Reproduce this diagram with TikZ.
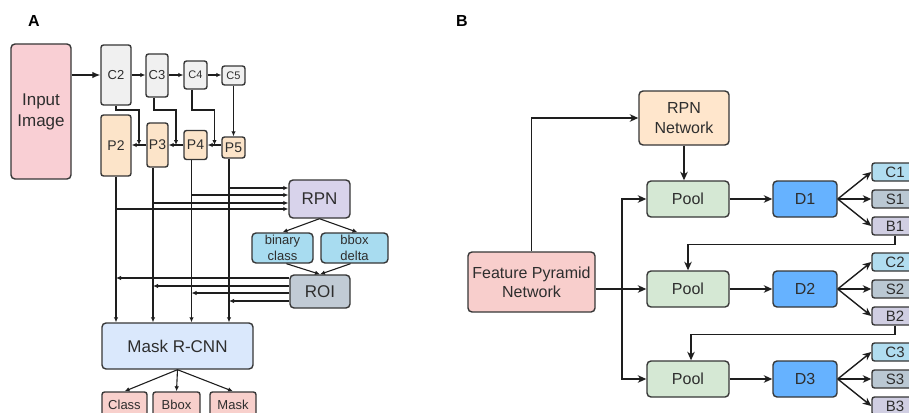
\documentclass[tikz,border=0pt]{standalone}
\usepackage{fontspec}
\setmainfont{Liberation Sans}
\usetikzlibrary{arrows.meta,calc}

\definecolor{edge}{HTML}{363636}
\definecolor{txt}{HTML}{2E2E2E}
\definecolor{wire}{HTML}{1E1E1E}
\definecolor{inpink}{HTML}{F9CFD4}
\definecolor{cgray}{HTML}{F0F0F0}
\definecolor{ppeach}{HTML}{FCE4C9}
\definecolor{rpnlav}{HTML}{D8D3EB}
\definecolor{headblue}{HTML}{A8DCF0}
\definecolor{roigray}{HTML}{C1CBD5}
\definecolor{maskblue}{HTML}{DAE8FC}
\definecolor{outpink}{HTML}{F8D0CC}
\definecolor{netpeach}{HTML}{FFE6CC}
\definecolor{poolgreen}{HTML}{D5E8D4}
\definecolor{dblue}{HTML}{66B2FF}
\definecolor{clsblue}{HTML}{B1DDF0}
\definecolor{segray}{HTML}{BAC8D3}
\definecolor{boxlav}{HTML}{D0CEE2}
\definecolor{fpnpink}{HTML}{F8CECC}

\newcommand{\fsz}[2]{\fontsize{#1}{#2}\selectfont}

\begin{document}
\begin{tikzpicture}[x=1pt,y=-1pt,
  box/.style={draw=edge, line width=1.4pt, rounded corners=4pt, align=center,
              text=txt, inner sep=0pt},
  sbox/.style={box, rounded corners=2.5pt},
  sz/.style 2 args={minimum width=#1, minimum height=#2},
  arrA/.style={draw=wire, line width=1.1pt, -{Latex[length=5pt,width=4.5pt]}},
  arrL/.style={draw=wire, line width=1.2pt, -{Latex[length=8pt,width=6.5pt]}},
  arrB/.style={draw=wire, line width=1.4pt, -{Stealth[length=8.5pt,width=7.5pt,inset=2.5pt]}},
  lbl/.style={font=\bfseries\fsz{16}{18}, text=black}
]
\useasboundingbox (0,0) rectangle (909,412);
\clip (0,0) rectangle (909,412);

% ---------------- Panel A: Mask R-CNN with FPN ----------------
\node[lbl] (labA) at (34,21) {A};

\node[box, fill=inpink, sz={60}{135}, font=\fsz{17}{21}] (inp) at (41,111.5) {Input\\Image};

\node[sbox, fill=cgray, sz={30}{60}, font=\fsz{13}{15}] (c2) at (116,75) {C2};
\node[sbox, fill=cgray, sz={22}{43}, font=\fsz{13}{15}] (c3) at (157,75.5) {C3};
\node[sbox, fill=cgray, sz={23}{28}, font=\fsz{11}{13}] (c4) at (195.5,75) {C4};
\node[sbox, fill=cgray, sz={23}{19}, font=\fsz{11}{13}] (c5) at (233.5,75.5) {C5};

\node[sbox, fill=ppeach, sz={30}{61}, font=\fsz{14}{16}] (p2) at (116,145.5) {P2};
\node[sbox, fill=ppeach, sz={21}{44}, font=\fsz{14}{16}] (p3) at (157.5,145) {P3};
\node[sbox, fill=ppeach, sz={23}{29}, font=\fsz{14}{16}] (p4) at (195.5,145) {P4};
\node[sbox, fill=ppeach, sz={23}{21}, font=\fsz{14}{16}] (p5) at (233.5,147.5) {P5};

\node[box, fill=rpnlav, sz={61}{38}, font=\fsz{17}{19}] (rpn) at (319.5,199) {RPN};
\node[box, fill=headblue, sz={61}{30}, font=\fsz{13}{16}] (bin) at (282.5,248) {binary\\class};
\node[box, fill=headblue, sz={67}{30}, font=\fsz{13}{16}] (bbx) at (354.5,248) {bbox\\delta};
\node[box, fill=roigray, sz={60}{33}, font=\fsz{17}{19}] (roi) at (320,291.5) {ROI};

\node[box, fill=maskblue, sz={151}{46}, font=\fsz{17}{19}] (mrcnn) at (177.5,346) {Mask R-CNN};

\node[sbox, fill=outpink, sz={45}{26}, font=\fsz{13}{15}] (cls) at (124.5,405) {Class};
\node[sbox, fill=outpink, sz={47}{26}, font=\fsz{13}{15}] (bbo) at (176.5,405) {Bbox};
\node[sbox, fill=outpink, sz={46}{26}, font=\fsz{13}{15}] (msk) at (233,405) {Mask};

% bottom-up pathway
\draw[arrL] (inp.east |- c2.west) -- (c2.west);
\draw[arrA] (c2.east) -- (c2.east -| c3.west);
\draw[arrA] (c3.east |- c4.west) -- (c4.west);
\draw[arrA] (c4.east) -- (c4.east -| c5.west);

% top-down pathway
\draw[arrA] (p5.west |- p4.east) -- (p4.east);
\draw[arrA] (p4.west) -- (p4.west -| p3.east);
\draw[arrA] (p3.west) -- (p3.west -| p2.east);

% lateral connections
\coordinate (lat) at (0,110);
\coordinate (m2) at ($(p3.west)!.5!(p3.west -| p2.east)$);
\coordinate (m3) at ($(p4.west)!.5!(p4.west -| p3.east)$);
\coordinate (m4) at ($(p4.east)!.5!(p4.east -| p5.west)$);
\draw[arrA] (c2.south) |- (lat -| m2) -- (m2);
\draw[arrA] ([xshift=-3pt]c3.south) |- (lat -| m3) -- (m3);
\draw[arrA] ([xshift=-3.5pt]c4.south) |- (lat -| m4) -- (m4);
\draw[arrA] (c5.south) -- (c5.south |- p5.north);

% pyramid outputs into Mask R-CNN
\coordinate (v2) at (p2.south);
\coordinate (v3) at ([xshift=-4.5pt]p3.south);
\coordinate (v4) at ([xshift=-4pt]p4.south);
\coordinate (v5) at ([xshift=-4.5pt]p5.south);
\foreach \v in {v2,v3,v4,v5}
  \draw[arrA] (\v) -- (\v |- mrcnn.north);

% pyramid levels into the RPN
\coordinate (r5) at ([yshift=11pt]rpn.west);
\coordinate (r4) at ([yshift=4pt]rpn.west);
\coordinate (r3) at ([yshift=-4pt]rpn.west);
\coordinate (r2) at ([yshift=-10pt]rpn.west);
\draw[arrA] (v5 |- r5) -- (r5);
\draw[arrA] (v4 |- r4) -- (r4);
\draw[arrA] (v3 |- r3) -- (r3);
\draw[arrA] (v2 |- r2) -- (r2);

% RPN heads and ROI
\draw[arrA] (rpn.south) -- (bin.north);
\draw[arrA] (rpn.south) -- ([xshift=3pt]bbx.north);
\draw[arrA] ([xshift=4pt]bin.south) -- (roi.north);
\draw[arrA] ([xshift=-4pt]bbx.south) -- (roi.north);

% ROI back to each level
\coordinate (q2) at ([yshift=13.5pt]roi.west);
\coordinate (q3) at ([yshift=5.5pt]roi.west);
\coordinate (q4) at ([yshift=-1.5pt]roi.west);
\coordinate (q5) at ([yshift=-9.5pt]roi.west);
\draw[arrA] (q2) -- (q2 -| v2);
\draw[arrA] (q3) -- (q3 -| v3);
\draw[arrA] (q4) -- (q4 -| v4);
\draw[arrA] (q5) -- (q5 -| v5);

% Mask R-CNN heads
\draw[arrA] (mrcnn.south) -- (cls.north);
\draw[arrA] (mrcnn.south) -- (bbo.north);
\draw[arrA] (mrcnn.south) -- (msk.north);

% ---------------- Panel B: cascaded detection ----------------
\node[lbl] (labB) at (462,21) {B};

\node[box, fill=netpeach, sz={90}{54}, font=\fsz{16}{20}] (rpnn) at (684,118) {RPN\\Network};
\node[box, fill=fpnpink, sz={127}{60}, font=\fsz{16}{19}] (fpn) at (531.5,282) {Feature Pyramid\\Network};

\foreach \i/\y in {1/199,2/289,3/379}{
  \node[box, fill=poolgreen, sz={82}{36}, font=\fsz{16}{18}] (pool\i) at (688,\y) {Pool};
  \node[box, fill=dblue, sz={64}{36}, font=\fsz{16}{18}] (d\i) at (805,\y) {D\i};
  \node[sbox, fill=clsblue, sz={46}{18}, font=\fsz{15}{17}] (cc\i) at (895,\y-27) {C\i};
  \node[sbox, fill=segray, sz={46}{18}, font=\fsz{15}{17}] (s\i) at (895,\y) {S\i};
  \node[sbox, fill=boxlav, sz={46}{18}, font=\fsz{15}{17}] (b\i) at (895,\y+27) {B\i};
  \draw[arrB] (pool\i.east) -- (d\i.west);
  \draw[arrB] (d\i.east) -- (cc\i.west);
  \draw[arrB] (d\i.east) -- (s\i.west);
  \draw[arrB] (d\i.east) -- (b\i.west);
}

\draw[arrB] (fpn.north) |- (rpnn.west);
\draw[arrB] (rpnn.south) -- (rpnn.south |- pool1.north);
\draw[arrB] (fpn.east |- pool2.west) -- (pool2.west);
\coordinate (jn) at (622,0);
\draw[arrB] (jn |- pool2.west) |- (pool1.west);
\draw[arrB] (jn |- pool2.west) |- (pool3.west);

\draw[arrB] (b1.south) -- ++(0,9) -| (pool2.north);
\draw[arrB] (b2.south) -- ++(0,9) -| ([xshift=3pt]pool3.north);
\end{tikzpicture}
\end{document}
